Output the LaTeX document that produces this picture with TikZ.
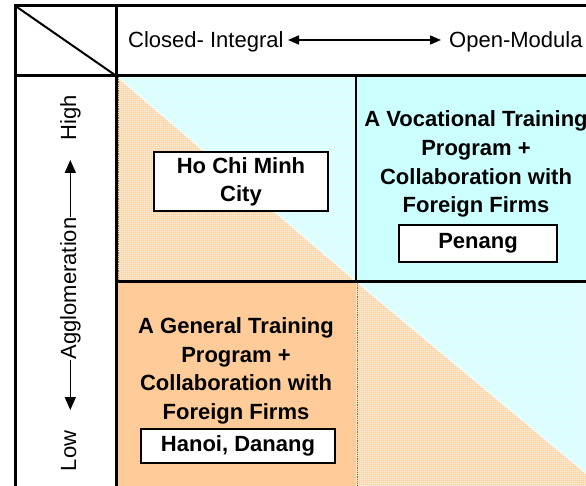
\documentclass[tikz,border=0pt]{standalone}
\usepackage{fontspec}
\setmainfont{Liberation Sans}
\usetikzlibrary{arrows.meta,patterns.meta}

\definecolor{cyanfill}{HTML}{CCFFFF}
\definecolor{orangefill}{HTML}{FFCC99}
\definecolor{cellbrown}{HTML}{8C6A4A}

% fine white grid laid over the shaded (mixed) cells
\tikzdeclarepattern{
  name=finegrid,
  type=uncolored,
  bounding box={(0pt,0pt) and (2pt,2pt)},
  tile size={(2pt,2pt)},
  code={
    \pgfsetlinewidth{0.4pt}
    \pgfpathmoveto{\pgfqpoint{0pt}{0.2pt}}
    \pgfpathlineto{\pgfqpoint{2pt}{0.2pt}}
    \pgfpathmoveto{\pgfqpoint{0.2pt}{0pt}}
    \pgfpathlineto{\pgfqpoint{0.2pt}{2pt}}
    \pgfusepath{stroke}
  }
}

\tikzset{
  plaintext/.style={inner sep=0pt, font=\fontsize{22}{28.7}\selectfont},
  blocktext/.style={inner sep=0pt, align=center, font=\bfseries\fontsize{22}{28.7}\selectfont},
  placebox/.style={draw=black, line width=1.2pt, fill=white, inner sep=0pt, align=center,
    font=\bfseries\fontsize{22}{28}\selectfont},
  shadeO/.style={fill=orangefill!85!white, postaction={pattern=finegrid, pattern color=white}},
  shadeC/.style={fill=cyanfill!85!white, postaction={pattern=finegrid, pattern color=white}},
  harrow/.style={line width=1.6pt, {Triangle[length=11pt,width=9pt]}-{Triangle[length=11pt,width=9pt]}},
  varrow/.style={line width=1.6pt, -{Triangle[length=13pt,width=11pt]}},
  thickrule/.style={line width=3pt},
  midrule/.style={line width=2.5pt},
  thinrule/.style={line width=2pt}
}

\begin{document}
\begin{tikzpicture}[x=1pt,y=-1pt]
\useasboundingbox (0,0) rectangle (586,486);

% cell backgrounds
\fill[cyanfill] (356,75.7) rectangle (610,281.5);
\fill[orangefill] (116,281.5) rectangle (356,495);
\path[shadeO] (116,75.7) -- (116,281.5) -- (356,281.5) -- cycle;
\path[shadeC] (116,75.7) -- (356,75.7) -- (356,281.5) -- cycle;
\path[shadeO] (356,281.5) -- (356,490) -- (606,490) -- cycle;
\path[shadeC] (356,281.5) -- (606,281.5) -- (606,490) -- cycle;
\draw[white, line width=0.6pt] (116,75.7) -- (356,281.5);
\draw[white, line width=0.6pt] (356,281.5) -- (606,490);
\draw[cellbrown, densely dotted, line width=0.8pt] (357,283) -- (357,486);
\draw[cellbrown, densely dotted, line width=0.8pt] (118,77) -- (118,280);

% table rules
\draw[thickrule, line join=miter] (15,486) -- (15,5.7) -- (586,5.7);
\draw[thickrule] (116,5.7) -- (116,486);
\draw[midrule] (15,75.7) -- (586,75.7);
\draw[thinrule] (15,5.7) -- (116,75.7);
\draw[thinrule] (356,75.7) -- (356,281.5);
\draw[midrule] (116,281.5) -- (586,281.5);

% horizontal axis
\node[plaintext, anchor=base west] (closed) at (128,48) {Closed- Integral};
\node[plaintext, anchor=base west] (open) at (449,48) {Open-Modula};
\coordinate (hl) at (288,40);
\coordinate (hr) at (441,40);
\draw[harrow] (hl) -- (hr);

% vertical axis
\node[plaintext, rotate=90, anchor=base] (agg) at (76,288.5) {Agglomeration};
\node[plaintext, rotate=90, anchor=base] (high) at (76,117.5) {High};
\node[plaintext, rotate=90, anchor=base] (low) at (76,451) {Low};
\coordinate (uptip) at (0,160);
\coordinate (downtip) at (0,410);
\draw[varrow] (agg.east) -- (agg.east |- uptip);
\draw[varrow] (agg.west) -- (agg.west |- downtip);

% cell contents
\node[placebox, minimum width=174pt, minimum height=59pt] (hcmc) at (241,181.5) {Ho Chi Minh\\City};
\node[blocktext] (voc) at (476,164.3) {A Vocational Training\\Program +\\Collaboration with\\Foreign Firms};
\node[placebox, minimum width=158pt, minimum height=37pt] (penang) at (478,243.5) {Penang};
\node[blocktext] (gen) at (236,370.8) {A General Training\\Program +\\Collaboration with\\Foreign Firms};
\node[placebox, minimum width=194pt, minimum height=34pt] (hanoi) at (238,446) {Hanoi, Danang};
\end{tikzpicture}
\end{document}
